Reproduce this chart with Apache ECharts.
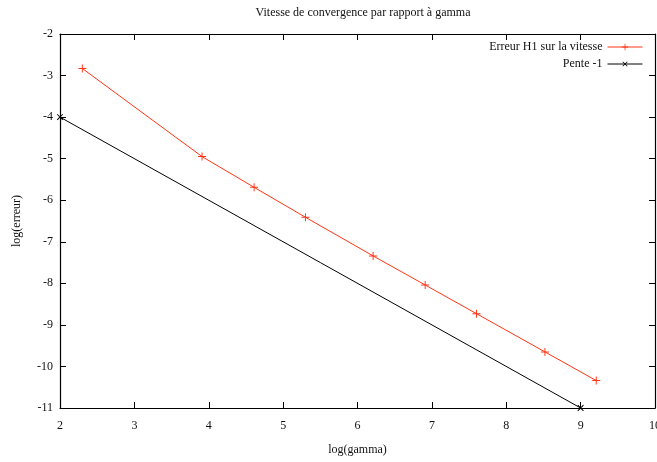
<!DOCTYPE html>
<html><head><meta charset="utf-8">
<script src="https://cdn.jsdelivr.net/npm/echarts@6/dist/echarts.min.js"></script>
<style>html,body{margin:0;padding:0;background:#fff}#c{width:657px;height:462px}</style>
</head><body><div id="c"></div>
<script>
var errX = [2.30, 3.91, 4.61, 5.30, 6.21, 6.91, 7.60, 8.52, 9.21];
var errY = [-2.83, -4.95, -5.69, -6.41, -7.34, -8.04, -8.73, -9.65, -10.34];
var slopeX = [2, 9];
var slopeY = [-4, -11];
var titleText = 'Vitesse de convergence par rapport à gamma';
var seriesNames = ['Erreur H1 sur la vitesse', 'Pente -1'];

var FONT = 'Liberation Serif';
var plus = 'path://M4.4,0h1.2v4.4h4.4v1.2h-4.4v4.4h-1.2v-4.4h-4.4v-1.2h4.4z';
function pairs(xs, ys){ return xs.map(function(x,i){return [x, ys[i]];}); }
var tickStyle = {show:true, inside:true, length:6, lineStyle:{color:'#000', width:1}};
var lineStyle = {show:true, onZero:false, lineStyle:{color:'#000', width:1.2}};
var chart = echarts.init(document.getElementById('c'));
chart.setOption({
  animation:false,
  textStyle:{fontFamily:FONT},
  title:{text:titleText, left:358, textAlign:'center', top:2,
    textStyle:{fontFamily:FONT, fontSize:12, fontWeight:'normal', color:'#111'}},
  legend:{orient:'vertical', right:9, top:36, align:'right', itemWidth:35, itemHeight:8, itemGap:5,
    lineStyle:{width:1},
    textStyle:{fontFamily:FONT, fontSize:12, color:'#111', padding:[0,0,0,0]},
    data:seriesNames},
  grid:{left:60, right:2, top:34, bottom:54, outerBoundsMode:'none', containLabel:false},
  xAxis:[
    {type:'value', min:2, max:10, interval:1, position:'bottom',
     name:'log(gamma)', nameLocation:'middle', nameGap:36,
     nameTextStyle:{fontFamily:FONT, fontSize:12, color:'#111'},
     axisLine:lineStyle, axisTick:tickStyle, splitLine:{show:false},
     axisLabel:{fontFamily:FONT, fontSize:12, color:'#111', margin:12}},
    {type:'value', min:2, max:10, interval:1, position:'top',
     axisLine:lineStyle, axisTick:tickStyle, splitLine:{show:false}, axisLabel:{show:false}}
  ],
  yAxis:[
    {type:'value', min:-11, max:-2, interval:1, position:'left',
     name:'log(erreur)', nameLocation:'middle', nameGap:37,
     nameTextStyle:{fontFamily:FONT, fontSize:12, color:'#111'},
     axisLine:lineStyle, axisTick:tickStyle, splitLine:{show:false},
     axisLabel:{fontFamily:FONT, fontSize:12, color:'#111', margin:7}},
    {type:'value', min:-11, max:-2, interval:1, position:'right',
     axisLine:lineStyle, axisTick:tickStyle, splitLine:{show:false}, axisLabel:{show:false}}
  ],
  series:[
    {name:seriesNames[0], type:'line', data:pairs(errX, errY),
     symbol:plus, symbolSize:8, showAllSymbol:true,
     itemStyle:{color:'#ff3414'}, lineStyle:{color:'#ff3414', width:1}},
    {name:seriesNames[1], type:'line', data:pairs(slopeX, slopeY),
     symbol:plus, symbolSize:8, symbolRotate:45,
     itemStyle:{color:'#000'}, lineStyle:{color:'#000', width:1}}
  ]
});
</script></body></html>
